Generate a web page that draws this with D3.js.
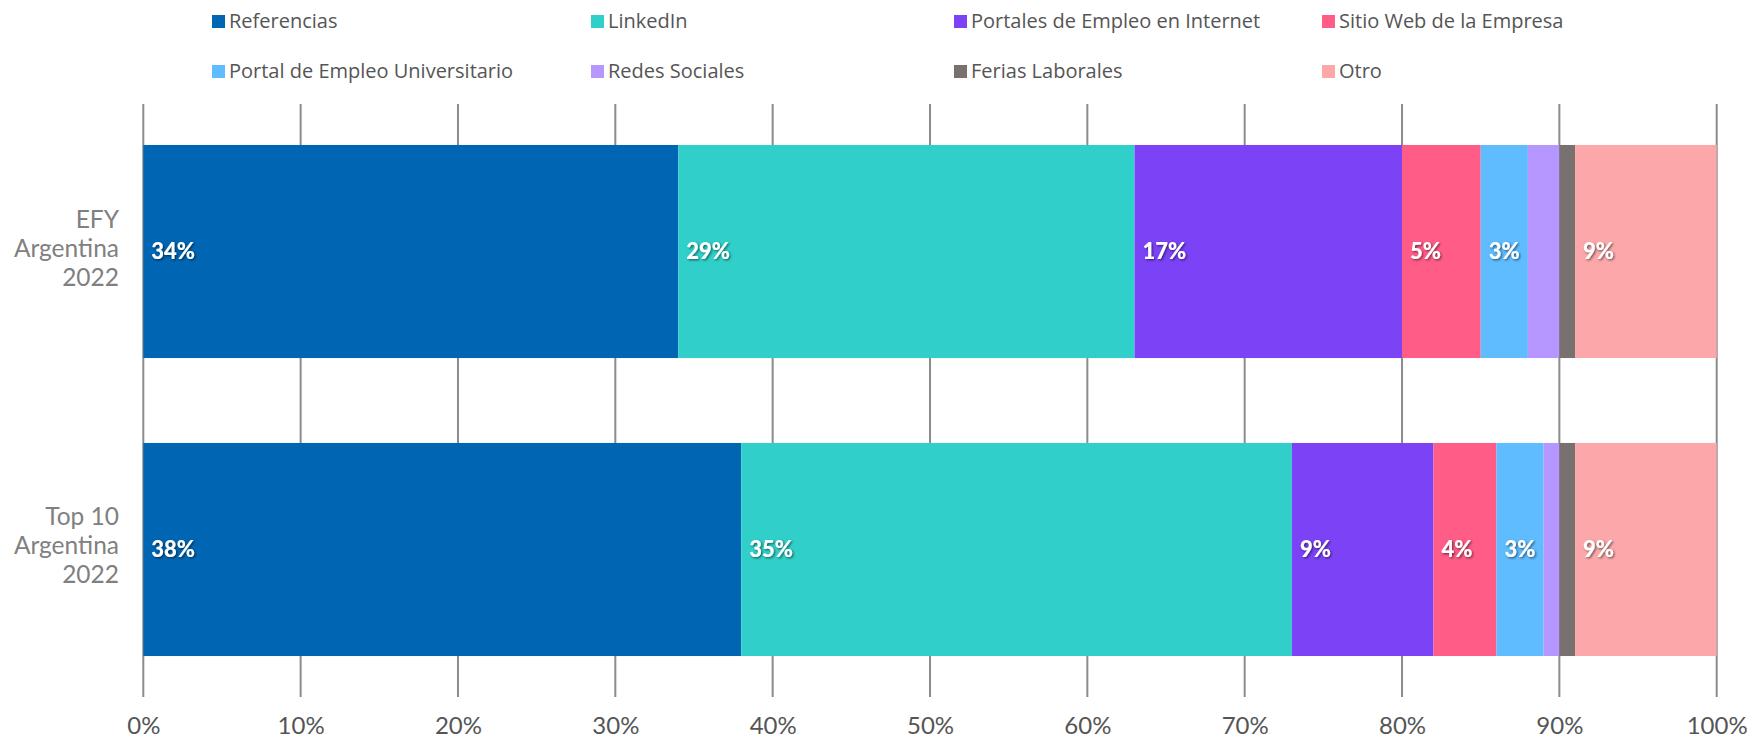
<!DOCTYPE html>
<html><head><meta charset="utf-8">
<script src="https://cdn.jsdelivr.net/npm/d3@7"></script>
<style>body{margin:0;background:#fff;} svg{display:block;}</style>
</head><body>
<script>
const categories = ["EFY Argentina 2022", "Top 10 Argentina 2022"];
const seriesNames = ["Referencias","LinkedIn","Portales de Empleo en Internet","Sitio Web de la Empresa","Portal de Empleo Universitario","Redes Sociales","Ferias Laborales","Otro"];
const seriesColors = ["#0066B3","#30CFC9","#7B42F6","#FF5C87","#5EBCFF","#B597FF","#787170","#FCA8AA"];
const efyValues = [34, 29, 17, 5, 3, 2, 1, 9];
const top10Values = [38, 35, 9, 4, 3, 1, 1, 9];
const tickValues = [0,10,20,30,40,50,60,70,80,90,100];
const categoryLines = [["EFY","Argentina","2022"],["Top 10","Argentina","2022"]];
const legendX = [212, 591, 954, 1322];

const W = 1752, H = 740;
const svg = d3.select("body").append("svg").attr("width", W).attr("height", H);
const defs = svg.append("defs");
const f = defs.append("filter").attr("id","sh").attr("x","-20%").attr("y","-20%").attr("width","150%").attr("height","150%");
f.append("feDropShadow").attr("dx",1.2).attr("dy",1.2).attr("stdDeviation",0.8).attr("flood-color","#000").attr("flood-opacity",0.55);

const x = d3.scaleLinear().domain([0,100]).range([143.3, 1716.7]);
const y = d3.scaleBand().domain(categories).range([104, 697]).paddingInner(0.285).paddingOuter(0.1375);

// gridlines
const grid = svg.append("g");
grid.selectAll("line").data(tickValues).join("line")
  .attr("x1", d=>x(d)).attr("x2", d=>x(d)).attr("y1", 104).attr("y2", 697)
  .attr("stroke", "#8c8c8c").attr("stroke-width", 2);

// axis labels
const axis = d3.axisBottom(x).tickValues(tickValues).tickFormat(d=>d+"%").tickSize(0).tickPadding(0);
const ax = svg.append("g").attr("transform","translate(0,734)").call(axis);
ax.select(".domain").remove();
ax.selectAll("text").attr("font-family","Lato, sans-serif").attr("font-size",24).attr("fill","#555").attr("dy",0);

// stacks
const rows = [efyValues, top10Values];
const table = categories.map((c,i)=>{ const o={cat:c}; seriesNames.forEach((s,j)=>o[s]=rows[i][j]); return o; });
const stack = d3.stack().keys(seriesNames)(table);

const gBars = svg.append("g");
stack.forEach((layer, j)=>{
  gBars.append("g").attr("fill", seriesColors[j]).selectAll("rect").data(layer).join("rect")
    .attr("x", d=>x(d[0])).attr("width", d=>x(d[1])-x(d[0]))
    .attr("y", d=>y(d.data.cat)).attr("height", y.bandwidth());
});
const gLab = svg.append("g");
stack.forEach((layer, j)=>{
  gLab.selectAll(null).data(layer.filter(d=>d[1]-d[0]>=3)).join("text")
    .attr("x", d=>x(d[0])+8).attr("y", d=>y(d.data.cat)+y.bandwidth()/2+7.5)
    .attr("font-family","Lato, sans-serif").attr("font-weight",900).attr("font-size",22)
    .attr("fill","#fff").attr("filter","url(#sh)")
    .text(d=>(d[1]-d[0])+"%");
});

// category labels
categories.forEach((c,i)=>{
  const cy = y(c)+y.bandwidth()/2;
  const t = svg.append("text").attr("text-anchor","end").attr("font-family","Lato, sans-serif")
    .attr("font-size",24.5).attr("fill","#808080");
  categoryLines[i].forEach((ln,k)=>{
    t.append("tspan").attr("x",119).attr("y", cy + 5 + (k-1)*29).text(ln);
  });
});

// legend
const leg = svg.append("g");
seriesNames.forEach((s,i)=>{
  const r = Math.floor(i/4), c = i%4;
  const gx = legendX[c], gy = 15 + r*50;
  leg.append("rect").attr("x",gx).attr("y",gy).attr("width",13).attr("height",13).attr("fill",seriesColors[i]);
  leg.append("text").attr("x",gx+17).attr("y",gy+13).attr("font-family","'Open Sans', sans-serif")
    .attr("font-size",20).attr("fill","#555").text(s);
});
</script>
</body></html>
